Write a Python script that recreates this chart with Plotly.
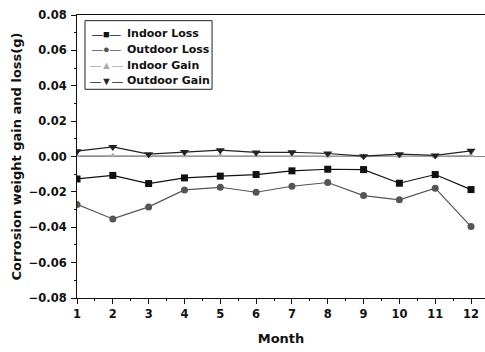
import plotly.graph_objects as go

months = list(range(1, 13))
indoor_loss = [-0.0127, -0.0107, -0.0153, -0.0121, -0.0111, -0.0102, -0.0081, -0.0072, -0.0074, -0.0151, -0.0102, -0.0187]
outdoor_loss = [-0.0271, -0.0353, -0.0285, -0.0189, -0.0174, -0.0202, -0.0168, -0.0147, -0.0221, -0.0245, -0.0179, -0.0396]
indoor_gain = [0.0005, 0.0004, 0.0003, 0.0004, 0.0005, 0.0004, 0.0004, 0.0003, 0.0002, 0.0003, 0.0002, 0.0007]
outdoor_gain = [0.0030, 0.0054, 0.0013, 0.0026, 0.0036, 0.0023, 0.0024, 0.0017, 0.0002, 0.0013, 0.0006, 0.0032]

names = ["Indoor Loss", "Outdoor Loss", "Indoor Gain", "Outdoor Gain"]
values = [indoor_loss, outdoor_loss, indoor_gain, outdoor_gain]
colors = ["#111111", "#555555", "#aaaaaa", "#222222"]
symbols = ["square", "circle", "triangle-up", "triangle-down"]
sizes = [7, 7, 6, 8]
glyphs = ["■", "●", "▲", "▼"]

font = "Liberation Sans, Arial, sans-serif"
dfont = "DejaVu Sans, sans-serif"

fig = go.Figure()
for name, vals, col, sym, sz in zip(names, values, colors, symbols, sizes):
    fig.add_trace(go.Scatter(
        x=months, y=vals, name=name, mode="lines+markers",
        line=dict(color=col, width=1.2),
        marker=dict(symbol=sym, size=sz, color=col),
        showlegend=False,
    ))

# legend drawn as a boxed list of entries
fig.add_shape(type="rect", xref="paper", yref="paper", x0=0.0196, x1=0.331, y0=0.7375, y1=0.980,
              line=dict(color="#222222", width=1), fillcolor="white", layer="above")
entry_y = [0.934, 0.879, 0.823, 0.768]
for name, col, glyph, yy in zip(names, colors, glyphs, entry_y):
    fig.add_annotation(xref="paper", yref="paper", x=0.0735, y=yy, xanchor="center", yanchor="middle",
                       text=f"—{glyph}—", showarrow=False,
                       font=dict(family=font, size=11, color=col))
    fig.add_annotation(xref="paper", yref="paper", x=0.118, y=yy, xanchor="left", yanchor="middle",
                       text=name, showarrow=False,
                       font=dict(family=dfont, size=11, color="#111111", weight="bold"))

fig.update_layout(
    width=485, height=352,
    margin=dict(l=77, r=0, t=15, b=54),
    paper_bgcolor="white", plot_bgcolor="white",
    font=dict(family=font, color="#111111", size=11),
    showlegend=False,
    xaxis=dict(
        range=[1, 12.39], tickmode="array", tickvals=months,
        ticks="outside", ticklen=5, tickwidth=1, tickcolor="#111",
        minor=dict(ticks="outside", ticklen=2, tickwidth=1, tickcolor="#111", dtick=0.5, tick0=1),
        showline=True, linecolor="#111", linewidth=1, mirror=True,
        showgrid=False, zeroline=False, automargin=False,
        tickfont=dict(family=dfont, size=11.5, weight="bold"),
        title=dict(text="Month", font=dict(family=dfont, size=13, weight="bold"), standoff=14),
    ),
    yaxis=dict(
        range=[-0.08, 0.08], tickmode="linear", tick0=-0.08, dtick=0.02, tickformat=".2f",
        ticks="outside", ticklen=5, tickwidth=1, tickcolor="#111",
        minor=dict(ticks="outside", ticklen=2, tickwidth=1, tickcolor="#111", dtick=0.01),
        showline=True, linecolor="#111", linewidth=1, mirror=False,
        showgrid=False, zeroline=True, zerolinecolor="#888", zerolinewidth=1,
        automargin=False, ticklabelstandoff=2,
        tickfont=dict(family=dfont, size=11.5, weight="bold"),
        title=dict(text="Corrosion weight gain and loss(g)", font=dict(family=dfont, size=13, weight="bold"), standoff=4),
    ),
)

fig.write_html("out.html", config={"displayModeBar": False},
               post_script="document.body.style.margin='0';")
